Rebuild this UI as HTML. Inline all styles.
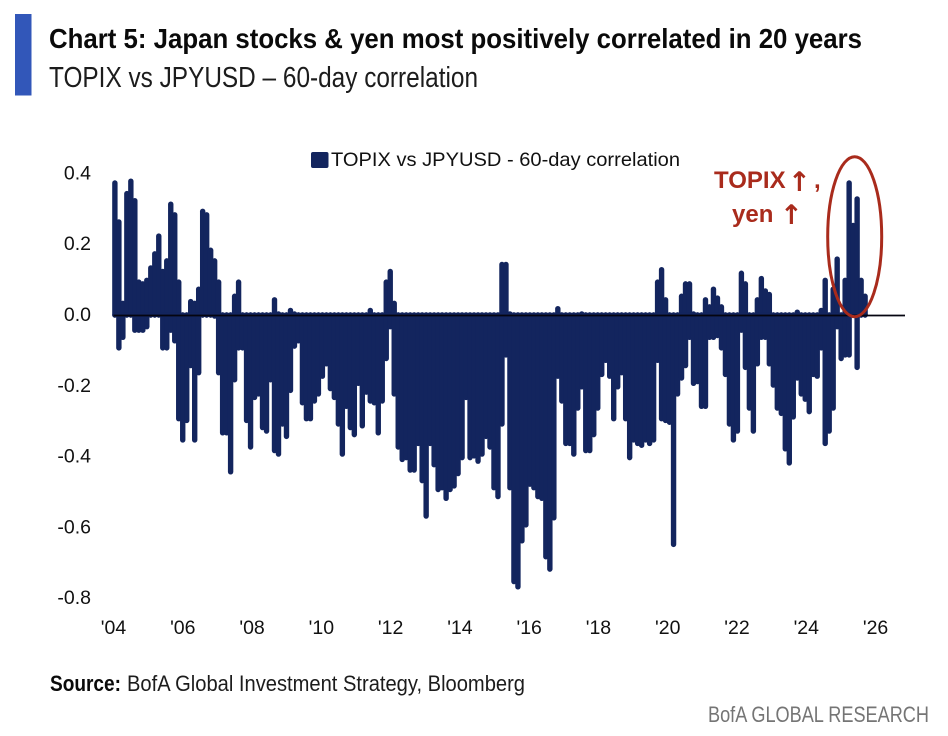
<!DOCTYPE html>
<html lang="en">
<head>
<meta charset="utf-8">
<title>Chart 5: Japan stocks &amp; yen most positively correlated in 20 years</title>
<style>
html,body{margin:0;padding:0;background:#fff;width:948px;height:736px;overflow:hidden}
svg{display:block;font-family:"Liberation Sans",sans-serif}
</style>
</head>
<body>
<svg id="chart" width="948" height="736" viewBox="0 0 948 736" xmlns="http://www.w3.org/2000/svg">
  <rect x="15" y="14" width="16.5" height="81.5" fill="#3257b9"/>
  <text x="49" y="48" font-size="28" font-weight="700" fill="#0a0a0a" textLength="813" lengthAdjust="spacingAndGlyphs">Chart 5: Japan stocks &amp; yen most positively correlated in 20 years</text>
  <text x="49" y="87" font-size="29" fill="#1c1c1c" textLength="429" lengthAdjust="spacingAndGlyphs">TOPIX vs JPYUSD – 60-day correlation</text>

  <g id="bars"></g>
  <rect x="114" y="312.8" width="753" height="3" fill="#13255e"/>
  <g id="y-axis"></g>
  <g id="x-axis"></g>

  <g>
    <rect x="311" y="152" width="17.5" height="16" rx="2" fill="#13255e"/>
    <text x="331" y="166" font-size="19.5" fill="#111" textLength="349" lengthAdjust="spacingAndGlyphs">TOPIX vs JPYUSD - 60-day correlation</text>
  </g>

  <ellipse cx="854.7" cy="236.7" rx="27" ry="80" fill="none" stroke="#a92b1c" stroke-width="3"/>
  <g fill="#a92b1c">
    <text x="714" y="188" font-size="24" font-weight="700">TOPIX</text>
    <text x="788" y="191" font-size="27" font-weight="700" font-family="DejaVu Sans, sans-serif">↑</text>
    <text x="814" y="188" font-size="24" font-weight="700">,</text>
    <text x="732" y="222" font-size="24" font-weight="700">yen</text>
    <text x="780" y="224" font-size="27" font-weight="700" font-family="DejaVu Sans, sans-serif">↑</text>
  </g>

  <text x="50" y="691" font-size="22" font-weight="700" fill="#0a0a0a" textLength="71" lengthAdjust="spacingAndGlyphs">Source:</text>
  <text x="127" y="691" font-size="22" fill="#1c1c1c" textLength="398" lengthAdjust="spacingAndGlyphs">BofA Global Investment Strategy, Bloomberg</text>
  <text x="708" y="722" font-size="22" fill="#757575" textLength="221" lengthAdjust="spacingAndGlyphs">BofA GLOBAL RESEARCH</text>
</svg>

<script>
const xTickYears = [2004,2006,2008,2010,2012,2014,2016,2018,2020,2022,2024,2026];
const xTickLabels = ["'04","'06","'08","'10","'12","'14","'16","'18","'20","'22","'24","'26"];
const yTickValues = [0.4,0.2,0,-0.2,-0.4,-0.6,-0.8];
const yTickLabels = ["0.4","0.2","0.0","-0.2","-0.4","-0.6","-0.8"];
const firstPeriodYear = 2004.04;
const periodLengthYears = 0.1152;

// Highest 60-day correlation reached in each period
const periodHigh = [
.38,.27,.04,.35,.385,.33,.10,.095,.105,.14,
.18,.23,.13,.16,.32,.29,.10,0,0,.045,
.04,.08,.30,.29,.19,.16,.10,0,0,0,
.06,.10,0,0,0,0,0,0,0,0,
.05,.01,0,0,.02,.01,0,0,0,0,
0,0,0,0,0,0,0,0,0,0,
0,0,0,0,.02,0,0,0,.10,.13,
.04,0,0,0,0,0,0,0,0,0,
0,0,0,0,0,0,0,0,0,0,
0,0,0,0,0,0,0,.15,.15,.01,
0,0,0,0,0,0,0,0,0,0,
0,.025,0,0,0,0,0,.01,0,0,
0,0,0,0,0,0,0,0,0,0,
0,0,0,0,0,0,.10,.135,.05,
0,0,0,.06,.095,.095,.01,0,0,.05,
.03,.08,.055,.03,0,0,0,0,.125,.095,
0,0,.05,.11,.075,.065,0,0,0,0,
0,0,.015,0,0,0,0,0,.02,.105,
0,.08,.165,0,.105,.38,.26,.335,.105,.06
];

// Lowest 60-day correlation reached in each period
const periodLow = [
0,-.10,-.07,0,0,-.05,-.05,-.05,-.04,0,
0,0,-.10,-.10,-.05,-.08,-.30,-.36,-.305,-.15,
-.36,-.17,0,0,0,-.01,-.17,-.34,-.34,-.45,
-.19,-.10,-.10,-.305,-.38,-.24,-.23,-.325,-.335,-.19,
-.39,-.40,-.315,-.35,-.22,-.095,-.08,-.255,-.30,-.30,
-.25,-.23,-.18,-.145,-.215,-.24,-.315,-.40,-.265,-.325,
-.345,-.20,-.32,-.225,-.25,-.255,-.34,-.25,-.13,-.04,
-.23,-.38,-.415,-.41,-.445,-.445,-.37,-.475,-.575,-.37,
-.43,-.50,-.495,-.525,-.50,-.49,-.455,-.41,-.24,-.41,
-.405,-.42,-.40,-.35,-.38,-.495,-.52,-.315,-.12,-.495,
-.76,-.775,-.645,-.60,-.485,-.495,-.52,-.525,-.69,-.725,
-.58,-.18,-.25,-.37,-.37,-.40,-.27,-.21,-.39,-.39,
-.345,-.27,-.175,-.135,-.18,-.30,-.21,-.17,-.30,-.41,
-.36,-.37,-.375,-.36,-.37,-.36,-.135,-.30,-.305,
-.31,-.655,-.23,-.185,-.15,-.07,-.20,-.195,-.265,-.265,
-.07,-.07,-.065,-.10,-.175,-.315,-.36,-.335,-.05,-.155,
-.27,-.335,-.145,-.07,-.07,-.145,-.205,-.27,-.285,-.385,
-.425,-.295,-.185,-.23,-.245,-.28,-.175,-.18,-.10,-.37,
-.335,-.27,-.04,-.13,-.12,-.12,0,-.155,0,0
];

const SVG_NS = 'http://www.w3.org/2000/svg';
const capInset = 2.5;
function xScale(year){ return 113.5 + 34.64 * (year - 2004); }
function yScale(v){ return 315 - 354 * v; }
function periodYear(i){ return firstPeriodYear + periodLengthYears * i; }

const barsGroup = document.getElementById('bars');
function addBar(i, value, seriesName){
  const x = xScale(periodYear(i));
  const zeroY = yScale(0);
  const rawY = yScale(value);
  const length = Math.abs(rawY - zeroY);
  const inset = Math.min(capInset, length);
  const endY = rawY + (value > 0 ? inset : -inset);
  const bar = document.createElementNS(SVG_NS, 'line');
  
  
  bar.setAttribute('x1', x);
  bar.setAttribute('x2', x);
  bar.setAttribute('y1', zeroY);
  bar.setAttribute('y2', endY);
  bar.setAttribute('stroke', '#13255e');
  bar.setAttribute('stroke-width', '5.4');
  bar.setAttribute('stroke-linecap', 'round');
  barsGroup.appendChild(bar);
}
periodHigh.forEach(function(v, i){ addBar(i, v, 'bar-period-high'); });
periodLow.forEach(function(v, i){ addBar(i, v, 'bar-period-low'); });

const yAxis = document.getElementById('y-axis');
yTickValues.forEach(function(v, i){
  const t = document.createElementNS(SVG_NS, 'text');
  
  
  t.setAttribute('x', 91);
  t.setAttribute('y', yScale(v) + 6);
  t.setAttribute('text-anchor', 'end');
  t.setAttribute('font-size', '19.5');
  t.setAttribute('fill', '#111');
  t.textContent = yTickLabels[i];
  yAxis.appendChild(t);
});

const xAxis = document.getElementById('x-axis');
const zeroLine = document.createElementNS(SVG_NS, 'line');


zeroLine.setAttribute('x1', xScale(2004));
zeroLine.setAttribute('x2', 905);
zeroLine.setAttribute('y1', yScale(0) + 0.5);
zeroLine.setAttribute('y2', yScale(0) + 0.5);
zeroLine.setAttribute('stroke', '#050510');
zeroLine.setAttribute('stroke-width', '1.8');
xAxis.appendChild(zeroLine);

xTickYears.forEach(function(year, i){
  const t = document.createElementNS(SVG_NS, 'text');
  
  
  t.setAttribute('x', xScale(year));
  t.setAttribute('y', 634);
  t.setAttribute('text-anchor', 'middle');
  t.setAttribute('font-size', '19.5');
  t.setAttribute('fill', '#111');
  t.textContent = xTickLabels[i];
  xAxis.appendChild(t);
});
</script>
</body>
</html>
